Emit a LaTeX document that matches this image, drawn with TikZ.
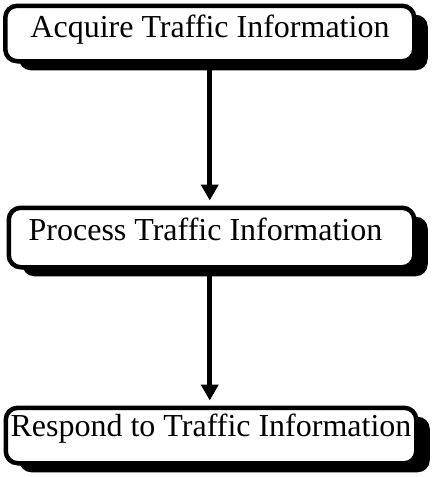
\documentclass[tikz,border=0pt]{standalone}
\usepackage{fontspec}
\setmainfont{Liberation Serif}
\usetikzlibrary{arrows.meta,shadows}
\begin{document}
\begin{tikzpicture}[x=1pt,y=-1pt,
  stagebox/.style={draw=black, fill=white, line width=4.5pt, rounded corners=12pt,
    inner sep=0pt,
    drop shadow={shadow xshift=13.5pt, shadow yshift=-9pt, fill=black, opacity=1}},
  stagetext/.style={anchor=base, inner sep=0pt, font=\fontsize{32}{36}\selectfont},
  flow/.style={line width=5pt, -{Triangle[width=17pt,length=16pt]}, shorten >=5pt}]
  % page
  \fill[white] (0,0) rectangle (432,477);
  \useasboundingbox (0,0) rectangle (432,477);
  % the three stages
  \node[stagebox, minimum width=409pt, minimum height=55.5pt] (b1) at (209.75,33.5) {};
  \node[stagebox, minimum width=405.5pt, minimum height=59.5pt] (b2) at (211.5,237.5) {};
  \node[stagebox, minimum width=410.5pt, minimum height=55.5pt] (b3) at (211,435.5) {};
  \node[stagetext] (t1) at (210,37.5) {Acquire Traffic Information};
  \node[stagetext] (t2) at (205.5,240.5) {Process Traffic Information};
  \node[stagetext] (t3) at (211,436) {Respond to Traffic Information};
  % flow between the stages
  \draw[flow] (b1.south) -- (b1.south |- b2.north);
  \draw[flow] (b1.south |- b2.south) -- (b1.south |- b3.north);
\end{tikzpicture}
\end{document}
